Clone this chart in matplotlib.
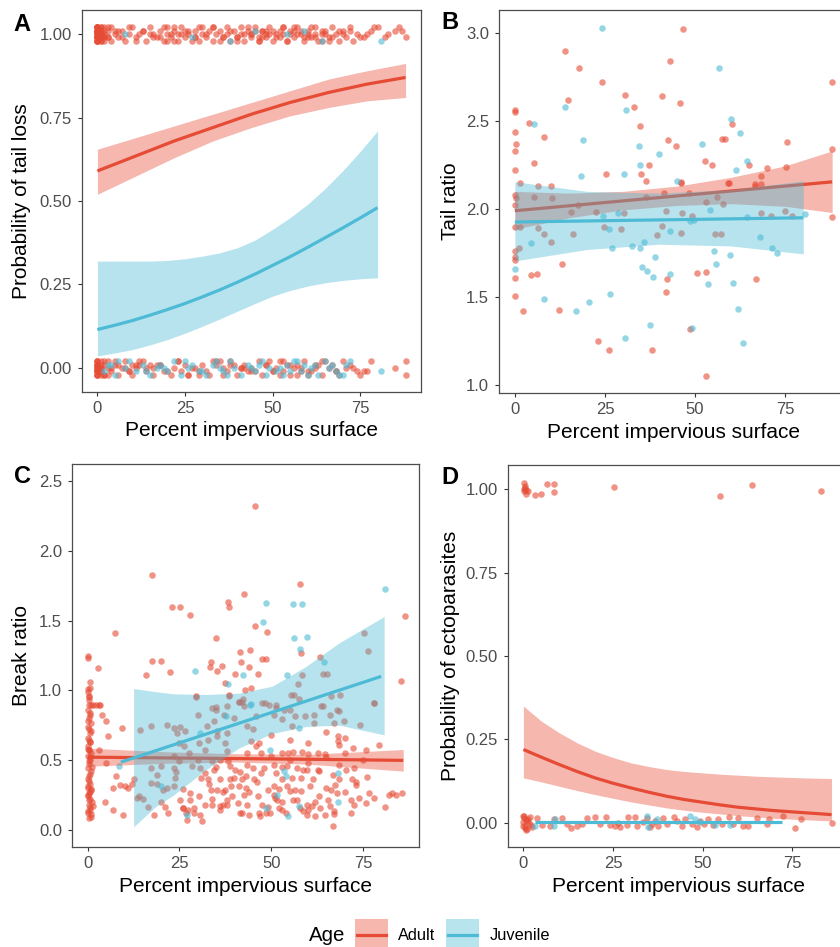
import numpy as np
import matplotlib
matplotlib.use('Agg')
import matplotlib.pyplot as plt
from matplotlib.patches import Rectangle
from matplotlib.lines import Line2D

plt.rcParams['font.family'] = ['Liberation Sans', 'DejaVu Sans']

RED = '#E64B35'
BLUE = '#4DBBD5'
RED_FILL = '#F5B7AE'
BLUE_FILL = '#B8E4EE'

groups = ['Adult', 'Juvenile']
x_ticks = [0, 25, 50, 75]

# ---------------- Panel A: probability of tail loss ----------------
a_adult_top_x = [0,0,0,0,0,0,0,0,0,0, 0,0,1,1,1,1,1,1,2,2, 2,2,3,3,4,5,6,7,8,9,
                 10,11,12,13,14,15,16,17,18,19, 20,20,21,22,22,23,24,25,25,26,
                 27,28,28,29,30,31,32,33,33,34, 35,36,37,37,38,39,40,41,41,42,
                 43,44,44,45,46,47,48,48,49,50, 51,52,52,53,54,55,55,56,57,58,
                 59,60,60,61,62,63,64,65,66,67, 68,69,70,71,72,74,76,78,80,83,
                 85,86,88,3,6,18,24,29,36,47, 50,53,58,62,64,69,75,40,45,30,
                 0,0,0,1,1,0,0,1,2,1,
                 0,0,0,0,1,1,2,3,4,5, 7,9,11,13,15,16,19,21,23,26, 28,31,33,35,38,40,42,43,46,47,
                 49,51,53,54,56,57,59,61,62,64, 65,67,70,72,73,77,79,82,87,0, 0,1,20,22,44,46,48,56,60,66]
a_adult_top_dy = [2,1,0,-1,-2,1,0,-1,2,-2, 1,-1,2,0,-2,1,-1,0,2,-1, 0,-2,1,-1,2,0,-1,1,-2,0,
                  2,-1,0,1,-2,2,0,-1,1,-2, 0,2,-1,1,-2,0,2,-1,1,0,
                  -2,1,-1,2,0,-1,1,-2,2,0, 1,-1,2,0,-2,1,-1,2,0,-2,
                  1,0,-1,2,-2,1,0,-1,2,-2, 0,1,-1,2,-2,0,1,-1,2,0,
                  -2,1,0,-1,2,-2,1,0,-1,2, 0,-2,1,-1,2,0,-1,1,2,0,
                  1,2,-1,-1,1,-1,0,-2,-1,-1, 1,0,1,-1,0,1,-1,-2,1,2,
                  2,-2,1,-1,0,-1,1,2,-1,1,
                  -1,1,-2,2,0,-1,1,2,-2,1, -1,2,-2,1,0,-1,2,0,-2,1, -1,0,2,-2,1,-1,0,2,-2,1,
                  0,-1,2,-2,1,0,-1,2,0,-2, 1,-1,0,1,-2,0,2,-1,1,0, 2,-2,-2,2,0,-1,1,2,-1,-2]
a_juv_top_x = [8, 27, 38, 45, 54, 64, 81, 59]
a_juv_top_dy = [0, -1, -2, 1, 0, -2, -2, 1]
a_adult_bot_x = [0,0,0,0,0,0,0,0,0,0, 1,1,1,2,2,3,4,5,6,7, 8,9,10,10,11,12,13,14,15,16,
                 17,19,21,22,23,24,25,26,28,30, 31,32,34,35,36,37,38,40,41,42,
                 43,44,46,47,48,50,51,52,53,54, 55,56,57,58,59,60,62,63,64,66,
                 67,68,70,71,75,76,77,85,88,88, 0,0,1,2,5,18,29,38,44,57,
                 0,0,0,1,1,2,3,4,6,9, 12,14,16,18,20,23,27,29,33,36,
                 39,42,45,49,52,55,58,61,65,69, 72,73,74,78,0,0,1,3,8,11,
                 26,34,48,50,53,60,62,64,68,41]
a_adult_bot_dy = [2,1,0,-1,-2,1,-1,0,2,-2, 0,-1,2,-2,1,0,-1,1,-2,0, 2,-1,-2,1,0,1,2,-1,1,0,
                  1,-1,-2,0,2,-1,1,-2,0,1, -1,-2,1,2,0,-1,1,-2,0,1,
                  -1,0,2,-2,1,-1,0,2,-1,1, -2,0,1,-1,2,-1,0,1,-2,0,
                  1,-1,2,0,-2,-1,-1,0,2,-2, 1,-1,0,-2,2,1,-2,2,-1,-2,
                  0,2,-2,1,-1,2,-2,0,1,-1, 2,0,-2,1,-1,2,0,-1,2,-2,
                  1,0,-1,2,-2,1,0,-1,2,-2, 1,0,-1,2,-1,1,-2,2,0,1,
                  -2,2,1,-1,2,-2,1,2,-1,0]
a_juv_bot_x = [2,4,6,8,11,13,15,17,18,20, 22,24,26,27,29,31,33,35,36,38,
               39,41,43,45,47,49,51,53,54,56, 58,59,61,63,65,67,68,70,72,81,
               3,5,9,14,19,25,30,34,37,44, 46,48,52,55,57,60,62,66,69,71]
a_juv_bot_dy = [-1,1,2,0,-1,1,-2,0,1,-1, 2,-2,0,1,-1,-2,1,0,-1,2,
                0,-2,1,-1,2,0,-1,-2,1,2, -1,1,0,-2,2,1,-1,-2,2,-1,
                1,-2,2,-1,0,2,-1,2,-2,0, 1,-2,0,-1,2,-2,1,0,-2,1]

a_adult_fit_x = [0, 11, 22, 33, 44, 55, 66, 77, 88]
a_adult_fit = [0.59, 0.635, 0.68, 0.72, 0.76, 0.795, 0.825, 0.85, 0.87]
a_adult_lo = [0.52, 0.575, 0.63, 0.68, 0.72, 0.755, 0.78, 0.80, 0.81]
a_adult_hi = [0.655, 0.69, 0.725, 0.76, 0.795, 0.83, 0.865, 0.89, 0.912]
a_juv_fit_x = [0, 5, 10, 15, 20, 25, 30, 35, 40, 45, 50, 55, 60, 65, 70, 75, 80]
a_juv_fit = [0.115, 0.128, 0.142, 0.158, 0.175, 0.193, 0.213, 0.234, 0.257, 0.281,
             0.307, 0.333, 0.361, 0.39, 0.419, 0.449, 0.48]
a_juv_lo = [0.036, 0.045, 0.055, 0.069, 0.085, 0.104, 0.125, 0.147, 0.17, 0.193,
            0.215, 0.232, 0.245, 0.255, 0.262, 0.267, 0.27]
a_juv_hi = [0.32, 0.32, 0.32, 0.32, 0.322, 0.327, 0.335, 0.345, 0.36, 0.383,
            0.415, 0.45, 0.49, 0.537, 0.59, 0.648, 0.71]

# ---------------- Panel B: tail ratio ----------------
b_adult_x = [0,0,0,0.3,0,0,1.4,4,5.3,6.3, 8.2,9.9,13.8,14.8,17.7,24.1,25.2,30.6,33,34.6,
             34.9,36.5,37.3,40.8,42.4,42.9,44.8,45.8,46.2,46.7, 52.8,54.6,57.5,58.3,60.2,59.3,65,66.6,68.3,75.1,
             75.6,87.9,87.9,0,0.3,0,0,1.4,1.1,0, 0,0,0,0,2.3,5.4,4.4,6.2,6.3,8.1,
             9.9,10.4,13.2,12.2,15.6,16,17.4,22.4,23,24.8, 26.1,29.4,30.3,36.4,39.4,40.9,41.9,41.5,46.3,46.2,
             46.1,41.8,42.1,38,48.6,49.2,48.4,50.5,53,53, 56.1,57.6,55.4,57.2,59.2,67,68.4,71,75,76.9,
             88,66.7,68.4,69.9,53]
b_adult_y = [2.55,2.56,2.44,2.37,2.33,2.22,2.15,2.49,2.26,2.13, 2.41,2.13,2.90,2.62,2.80,2.72,2.20,2.65,2.58,2.47,
             2.20,2.16,2.25,2.64,2.39,2.84,2.36,2.60,2.15,3.02, 2.27,2.25,2.40,2.40,2.48,2.15,2.25,2.13,2.14,2.24,
             2.38,2.72,2.34,2.08,2.06,2.02,1.90,1.90,1.78,1.76, 1.73,1.71,1.61,1.505,1.42,2.07,1.625,1.63,1.89,1.86,
             1.81,2.06,1.69,1.425,1.985,1.86,2.02,1.985,1.25,1.90, 1.20,1.886,1.98,2.07,1.85,1.905,1.99,2.09,1.98,1.865,
             2.155,1.53,1.60,1.20,1.32,1.96,2.09,1.635,1.64,2.04, 2.07,2.03,1.86,1.86,2.15,1.60,1.98,1.96,1.99,1.96,
             1.953,2.14,2.19,2.23,1.053]
b_juv_x = [24.1,5.3,13.8,18.9,18.3,30.3,30.9,34.4,34.7,40.1, 51.8,56.7,60,62.5,61.4,64.5,45,4.4,0,26.2,
           27,32.4,34.7,35.7,39,35.2,36.7,38.2,43.1,8.1, 16.9,20.6,26.4,30.6,37.6,49.1,54,55.1,55.9,53.6,
           59.8,60.6,61.8,63.4,67.9,71.3,72.7,80.4,48.6,49.6, 43,28.7,24.4,64.4]
b_juv_y = [3.03,2.48,2.58,2.39,2.19,2.20,2.56,2.36,2.25,2.31, 2.37,2.80,2.51,2.43,2.22,2.27,2.16,1.805,1.66,1.886,
           1.78,1.79,1.78,1.81,1.73,1.67,1.65,1.615,1.63,1.49, 1.42,1.47,1.52,1.27,1.34,1.325,1.995,1.76,1.69,1.575,
           1.74,1.58,1.43,1.24,1.843,1.78,1.75,1.97,1.93,1.935, 1.875,1.98,1.96,1.956]

b_adult_fit_x = [0, 15, 30, 45, 60, 75, 88]
b_adult_fit = [1.99, 2.018, 2.046, 2.074, 2.102, 2.13, 2.154]
b_adult_lo = [1.885, 1.95, 1.995, 2.02, 2.03, 2.015, 1.98]
b_adult_hi = [2.10, 2.09, 2.10, 2.13, 2.18, 2.245, 2.33]
b_juv_fit_x = [0, 20, 40, 60, 80]
b_juv_fit = [1.926, 1.932, 1.938, 1.944, 1.95]
b_juv_lo = [1.705, 1.77, 1.80, 1.79, 1.745]
b_juv_hi = [2.155, 2.10, 2.09, 2.11, 2.16]

# ---------------- Panel C: break ratio ----------------
c_adult_x = [17.4,57.9,42.5,38.3,38.5,22.9,25.2,27.8,86.6,7.5, 45.7,48.9,34.9,44.2,41.4,47.6,48.5,58.0,63.3,0.1,
             0.1,17.5,20.0,2.9,33.6,33.3,36.7,35.3,41.8,44.0, 40.2,46.3,16.0,22.4,0.5,0.7,0.1,0.3,1.5,2.2,
             3.0,0.3,37.4,42.8,44.5,85.4,75.3,76.4,58.3,64.0, 65.2,57.3,55.5,57.6,68.8,66.4,77.9,29.4,38.4,42.3,
             41.2,42.7,38.0,47.5,49.4,51.3,33.9,63.5,68.0,45.6,
             0,0.3,0.8,0,0.5,0.2,1.0,0,0.4,0.7, 0.1,0.6,0,0.3,0.9,0,0.5,0.2,0,0.8,
             0.3,0,0.6,0.1,0.9,0.4,0,0.7,0.2,0.5, 0,0.8,0.3,0.1,1.2,0.6,
             3.2,5.0,3.9,5.4,3.0,5.0,7.6,9.3,9.7,7.0, 4.8,10.2,12.5,11.1,18.1,20.0,23.8,25.2,26.0,27.8,
             27.4,28.9,30.7,31.2,36.0,34.3,32.9,32.0,33.5,35.2, 33.8,36.0,37.0,38.0,38.8,40.2,41.6,41.1,42.5,42.0,
             43.5,43.9,45.8,46.7,43.5,46.3,47.6,48.5,49.0,50.7, 50.7,51.7,52.0,53.0,54.0,51.2,52.9,54.3,55.2,55.6,
             56.5,57.0,57.9,58.8,59.7,61.0,61.9,63.3,64.6,66.9, 65.5,66.4,67.3,68.6,61.4,62.8,60.6,66.9,70.5,68.6,
             72.6,71.7,74.0,72.6,76.7,71.7,75.8,82.2,84.0,85.8, 79.4,75.8,72.2,68.1,68.1,68.6,55.2,52.9,54.7,56.0,
             60.0,58.3,62.8,64.6,47.1,38.3,43.5,47.1,58.8,59.7, 54.3,50.7,43.0,45.3,38.8,36.0,37.4,39.3,30.2,25.9,
             26.8,41.6,46.6,49.8,59.7,66.0,7.0,8.8,12.0,16.5,
             17.2,14.2,23.4,25.2,26.6,21.6,23.4,14.0,15.0,13.5, 17.2,23.6,30.2,32.9,35.2,37.4,37.9,30.7,44.4,29.6,
             38.4,41.3,42.0,34.9,37.2,34.5,48.3,51.2,53.4,56.2, 56.6,59.3,61.6,64.0,66.1,68.4,69.8,78.0,74.3,67.2,
             61.7,55.8,53.0,50.7,45.8,43.5,38.0,35.2,32.5,21.6, 24.4,26.2,27.6,23.4,32.0,33.9,28.4,19.0,17.2,20.4,
             19,21,24,26,29,31,34,36,39,41, 44,46,49,51,53,56,58,60,63,65,
             67,70,73,76,78,81,83,20,25,30, 35,40,45,50,55,60,65,70,75,28,
             33,38,43,48,53,58,63,68,73,22, 27,32,37,42,47,52,57,62,67,72,
             45,50,55,60,65,70,40,35,30,25,
             0.2,0.6,0.1,0.9,0.4,0,0.7,0.3,1.1,0.5, 0.2,0.8,0,0.4,1.3,0.6,0.1,0.9,0.3,0.7]
c_adult_y = [1.83,1.765,1.69,1.635,1.60,1.60,1.595,1.54,1.537,1.415, 1.465,1.42,1.375,1.29,1.275,1.225,1.225,1.27,1.24,1.246,
             1.23,1.207,1.21,1.16,1.203,1.165,1.175,1.14,1.203,1.165, 1.12,1.12,1.11,1.13,1.06,1.02,0.99,0.957,0.895,0.895,
             0.895,0.895,1.05,1.0,1.015,1.07,1.41,1.28,1.11,1.12, 1.12,1.047,0.965,0.94,0.963,0.958,0.91,0.955,0.957,0.94,
             0.915,0.89,0.886,0.91,0.898,0.874,0.87,0.886,0.862,2.32,
             1.006,0.95,0.898,0.86,0.838,0.80,0.766,0.74,0.72,0.694, 0.66,0.63,0.60,0.575,0.55,0.527,0.50,0.47,0.443,0.42,
             0.383,0.36,0.33,0.31,0.287,0.26,0.24,0.22,0.18,0.16, 0.13,0.11,0.083,0.30,0.20,0.27,
             0.898,0.778,0.826,0.67,0.575,0.48,0.383,0.726,0.107,0.144, 0.20,0.311,0.36,0.30,0.107,0.20,0.37,0.215,0.156,0.215,
             0.143,0.156,0.107,0.06,0.503,0.431,0.36,0.407,0.287,0.287, 0.18,0.17,0.18,0.175,0.455,0.43,0.41,0.311,0.25,0.12,
             0.18,0.107,0.60,0.62,0.55,0.239,0.18,0.12,0.287,0.311, 0.25,0.215,0.156,0.14,0.12,0.407,0.36,0.311,0.275,0.37,
             0.287,0.215,0.156,0.13,0.18,0.167,0.095,0.156,0.107,0.024, 0.215,0.287,0.323,0.36,0.36,0.431,0.311,0.395,0.431,0.467,
             0.443,0.215,0.227,0.18,0.263,0.12,0.191,0.25,0.25,0.263, 0.61,0.575,0.587,0.67,0.635,0.61,0.646,0.55,0.55,0.56,
             0.545,0.56,0.55,0.545,0.55,0.49,0.467,0.407,0.43,0.43, 0.455,0.467,0.383,0.36,0.36,0.36,0.287,0.239,0.239,0.156,
             0.12,0.12,0.12,0.12,0.107,0.167,0.30,0.32,0.33,0.16,
             0.747,0.713,0.73,0.737,0.706,0.30,0.311,0.24,0.22,0.23, 0.443,0.443,0.622,0.646,0.67,0.622,0.563,0.443,0.635,0.958,
             0.963,0.915,0.915,0.862,0.82,0.778,0.91,0.898,0.862,0.963, 0.815,0.815,0.826,0.886,0.82,0.85,0.778,0.91,0.754,0.766,
             0.766,0.742,0.796,0.826,0.815,0.742,0.694,0.706,0.742,0.754, 0.694,0.598,0.55,0.527,0.575,0.49,0.455,0.395,0.335,0.287,
             0.33,0.16,0.41,0.29,0.12,0.37,0.22,0.14,0.31,0.19, 0.27,0.34,0.16,0.23,0.45,0.21,0.28,0.14,0.24,0.30,
             0.11,0.27,0.34,0.38,0.23,0.16,0.26,0.46,0.49,0.5, 0.45,0.37,0.44,0.53,0.5,0.48,0.52,0.55,0.5,0.26,
             0.33,0.21,0.3,0.44,0.2,0.37,0.42,0.26,0.32,0.12, 0.07,0.18,0.27,0.36,0.1,0.29,0.44,0.2,0.13,0.36,
             0.72,0.68,0.86,0.62,0.7,0.66,0.8,0.88,0.82,0.62,
             0.93,0.82,0.78,0.71,0.64,0.58,0.52,0.49,0.45,0.40, 0.35,0.29,0.25,0.21,0.17,0.14,0.12,0.09,0.57,0.63]
c_juv_x = [80.9,48.5,55.9,58.3,47.7,56.1,59.7,57.9,64.3,29.2, 42.3,54.4,38.3,44.4,8.6,44.3,37.8,30.5,49.6,53.4,
           54.1,68.2,20.0,51.7,68.2,48.5,27.1,54.6,57.7,57.7]
c_juv_y = [1.73,1.63,1.62,1.62,1.487,1.375,1.385,1.30,1.20,1.14, 1.11,1.11,1.047,0.90,0.455,0.898,0.815,0.695,0.575,0.419,
           0.383,0.407,0.311,0.25,0.20,0.156,0.107,0.095,0.167,0.73]

c_adult_fit_x = [0, 20, 40, 60, 86]
c_adult_fit = [0.52, 0.515, 0.51, 0.505, 0.497]
c_adult_lo = [0.455, 0.475, 0.485, 0.47, 0.42]
c_adult_hi = [0.585, 0.56, 0.545, 0.54, 0.575]
c_juv_fit_x = [9, 80]
c_juv_fit = [0.484, 1.10]
c_juv_band_x = [12.5, 18.6, 23.2, 32.2, 41.3, 50.3, 59.4, 68.5, 80.8]
c_juv_lo = [0.02, 0.167, 0.244, 0.43, 0.587, 0.69, 0.74, 0.75, 0.68]
c_juv_hi = [1.013, 0.99, 0.975, 0.97, 0.98, 1.03, 1.17, 1.34, 1.53]

# ---------------- Panel D: probability of ectoparasites ----------------
d_adult_x = [0.1,0.4,0.1,0.8,1.2,0.8,3.2,4.9,6.6,8.4,8.6,25.2,54.8,63.7,83.2,0.2,0.5,
             0,0.3,0.6,1.0,1.5,2.0,0,0.4,0.8,1.2,0,0.5,1.8,2.5,0.2,0.9,
             3.8,5.2,7.5,8.5,10.8,12.2,13.3,14.9,16.3,17.7, 20.1,21.4,23.1,24.2,25.6,26.3,27.0,28.9,29.3,31.2,
             31.7,33.5,34.4,35.2,35.8,36.8,37.7,39.1,40.0,41.9, 42.8,44.2,45.1,47.0,48.4,49.3,50.4,51.6,53.0,54.4,
             55.3,57.5,58.6,59.9,61.4,62.8,65.1,67.9,68.6,72.5, 75.8,77.6,86.0]
d_adult_y = [1.019,1.009,0.994,0.996,0.994,0.986,0.982,0.984,1.016,1.016,0.992,1.006,0.98,1.012,0.994,1.0,1.003,
             0.02,0.015,0.01,0.005,0.0,-0.005,-0.01,-0.015,-0.02,0.012,0.003,-0.008,0.018,-0.012,0.022,-0.018,
             0.014,-0.006,-0.008,0.012,0.014,-0.003,-0.016,-0.008,-0.003,0.014, 0.017,-0.003,0.017,-0.006,-0.008,0.0,-0.013,-0.006,0.017,0.017,
             -0.008,0.002,0.014,-0.013,-0.003,0.007,-0.008,0.014,-0.003,0.017, 0.007,-0.008,0.012,-0.003,-0.013,0.007,-0.003,0.012,-0.006,0.012,
             -0.003,0.017,-0.003,0.014,-0.008,-0.008,0.014,-0.003,0.012,0.020, -0.016,0.012,0.0]
d_juv_x = [3.3, 8.5, 8.9, 34.4, 34.9, 37.2, 46.5, 47.9, 53.5, 57.7, 49.3]
d_juv_y = [-0.008, -0.008, 0.012, 0.022, -0.013, 0.012, 0.022, 0.012, -0.006, -0.006, 0.002]

d_adult_fit_x = [0, 5, 10, 15, 20, 25, 30, 35, 40, 45, 50, 55, 60, 65, 70, 78, 86]
d_adult_fit = [0.22, 0.197, 0.175, 0.154, 0.135, 0.119, 0.105, 0.092, 0.08, 0.07,
               0.062, 0.054, 0.047, 0.042, 0.037, 0.031, 0.025]
d_adult_lo = [0.135, 0.123, 0.11, 0.097, 0.085, 0.074, 0.063, 0.054, 0.045, 0.038,
              0.032, 0.027, 0.022, 0.018, 0.014, 0.01, 0.006]
d_adult_hi = [0.35, 0.305, 0.27, 0.24, 0.215, 0.196, 0.18, 0.169, 0.16, 0.154,
              0.15, 0.146, 0.143, 0.14, 0.138, 0.135, 0.133]
d_juv_fit_x = [3.3, 72.3]
d_juv_fit = [0.004, 0.004]

# ---------------- drawing ----------------
W, H = 840, 947
fig = plt.figure(figsize=(W / 100, H / 100), dpi=100)


def make_ax(l, t, r, b):
    return fig.add_axes([l / W, 1 - b / H, (r - l) / W, (b - t) / H])


def style(ax, xlim, ylim, yticks, fmt):
    ax.set_xlim(*xlim)
    ax.set_ylim(*ylim)
    ax.set_xticks(x_ticks)
    ax.set_xticklabels([str(v) for v in x_ticks])
    ax.set_yticks(yticks)
    ax.set_yticklabels([fmt.format(v) for v in yticks])
    for s in ax.spines.values():
        s.set_color('#4D4D4D')
        s.set_linewidth(0.9)
    ax.tick_params(axis='both', length=3.2, width=0.8, color='#333333',
                   labelcolor='#4D4D4D', labelsize=12)
    ax.tick_params(axis='x', pad=3)
    ax.tick_params(axis='y', pad=4)


def pts(ax, x, y, color):
    ax.scatter(x, y, s=22, color=color, alpha=0.6, linewidths=0, zorder=1)


def smooth(ax, fx, fy, bx, lo, hi, color, z):
    ax.fill_between(bx, lo, hi, color=color, alpha=0.4, linewidth=0, zorder=z)
    ax.plot(fx, fy, color=color, lw=2.3, zorder=z + 1, solid_capstyle='butt')


# Panel A
axA = make_ax(82, 10, 421, 392)
pts(axA, a_adult_top_x, 1 + np.array(a_adult_top_dy) / 100, RED)
pts(axA, a_juv_top_x, 1 + np.array(a_juv_top_dy) / 100, BLUE)
pts(axA, a_adult_bot_x, np.array(a_adult_bot_dy) / 100, RED)
pts(axA, a_juv_bot_x, np.array(a_juv_bot_dy) / 100, BLUE)
smooth(axA, a_adult_fit_x, a_adult_fit, a_adult_fit_x, a_adult_lo, a_adult_hi, RED, 2)
smooth(axA, a_juv_fit_x, a_juv_fit, a_juv_fit_x, a_juv_lo, a_juv_hi, BLUE, 4)
style(axA, (-4.4, 92.4), (-0.072, 1.072), [0, 0.25, 0.5, 0.75, 1.0], '{:.2f}')

# Panel B
axB = make_ax(499, 10, 848, 393)
pts(axB, b_adult_x, b_adult_y, RED)
pts(axB, b_juv_x, b_juv_y, BLUE)
smooth(axB, b_adult_fit_x, b_adult_fit, b_adult_fit_x, b_adult_lo, b_adult_hi, RED, 2)
smooth(axB, b_juv_fit_x, b_juv_fit, b_juv_fit_x, b_juv_lo, b_juv_hi, BLUE, 4)
style(axB, (-4.4, 92.4), (0.955, 3.13), [1.0, 1.5, 2.0, 2.5, 3.0], '{:.1f}')

# Panel C
axC = make_ax(72, 464, 419, 847)
pts(axC, c_adult_x, c_adult_y, RED)
pts(axC, c_juv_x, c_juv_y, BLUE)
smooth(axC, c_adult_fit_x, c_adult_fit, c_adult_fit_x, c_adult_lo, c_adult_hi, RED, 2)
smooth(axC, c_juv_fit_x, c_juv_fit, c_juv_band_x, c_juv_lo, c_juv_hi, BLUE, 4)
style(axC, (-4.3, 90.3), (-0.125, 2.625), [0, 0.5, 1.0, 1.5, 2.0, 2.5], '{:.1f}')

# Panel D
axD = make_ax(508, 465, 848, 847)
pts(axD, d_adult_x, d_adult_y, RED)
pts(axD, d_juv_x, d_juv_y, BLUE)
smooth(axD, d_adult_fit_x, d_adult_fit, d_adult_fit_x, d_adult_lo, d_adult_hi, RED, 2)
axD.plot(d_juv_fit_x, d_juv_fit, color=BLUE, lw=2.3, zorder=5, solid_capstyle='butt')
style(axD, (-4.3, 90.6), (-0.072, 1.072), [0, 0.25, 0.5, 0.75, 1.0], '{:.2f}')

# Labels
xlab = 'Percent impervious surface'
for cx, cy in [(251.5, 431), (673.5, 432), (245.5, 886), (678, 886)]:
    fig.text(cx / W, 1 - cy / H, xlab, ha='center', va='center', fontsize=15, color='black')
for cx, cy, txt in [(22, 201, 'Probability of tail loss'), (451, 201.5, 'Tail ratio'),
                    (22, 655.5, 'Break ratio'), (451, 656, 'Probability of ectoparasites')]:
    fig.text(cx / W, 1 - cy / H, txt, ha='center', va='center', rotation=90, fontsize=15, color='black')
for lx, ly, txt in [(13, 31, 'A'), (441, 29, 'B'), (14, 483, 'C'), (441, 484, 'D')]:
    fig.text(lx / W, 1 - ly / H, txt, ha='left', va='baseline', fontsize=17, fontweight='bold')

# Legend
lax = fig.add_axes([0, 0, 1, 1])
lax.set_xlim(0, W)
lax.set_ylim(H, 0)
lax.axis('off')
lax.set_zorder(10)
lax.text(309, 935, 'Age', fontsize=14.7, va='center', ha='left')
for (kx, tx, label, col, fill) in [(355, 398, groups[0], RED, RED_FILL), (446, 490, groups[1], BLUE, BLUE_FILL)]:
    lax.add_patch(Rectangle((kx, 919), 33, 28, facecolor=fill, edgecolor='none'))
    lax.add_line(Line2D([kx + 2, kx + 31], [934.5, 934.5], color=col, lw=2.3))
    lax.text(tx, 935, label, fontsize=11.8, va='center', ha='left')

fig.savefig('out.png', dpi=100)
